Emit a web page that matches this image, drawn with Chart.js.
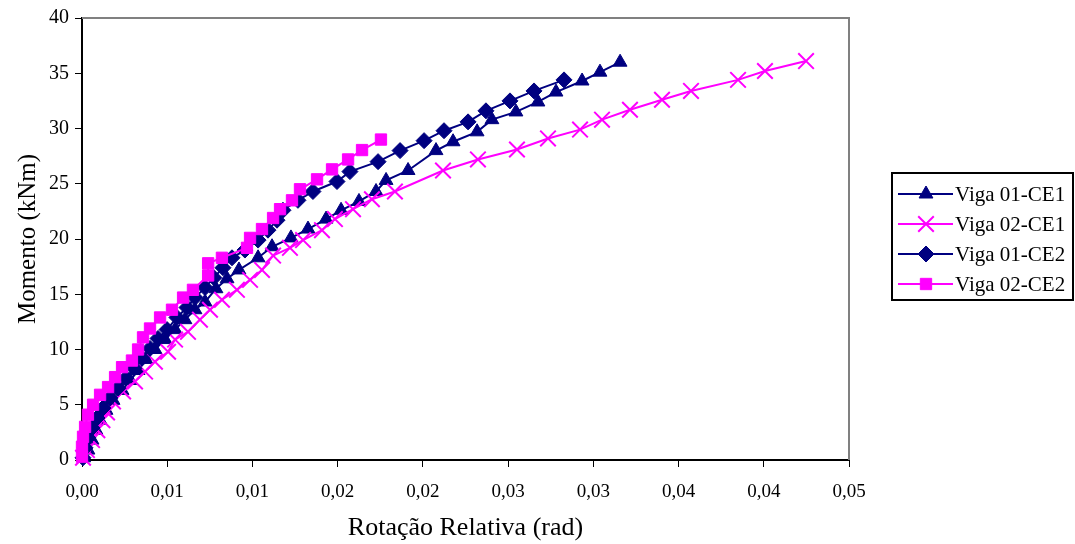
<!DOCTYPE html>
<html>
<head>
<meta charset="utf-8">
<script src="https://cdn.jsdelivr.net/npm/chart.js@4.4.0/dist/chart.umd.min.js"></script>
<style>
  html, body { margin: 0; padding: 0; background: #fff; }
  #wrap { width: 1075px; height: 544px; }
</style>
</head>
<body>
<div id="wrap"><canvas id="c" width="1075" height="544"></canvas></div>
<script>
// ---------- data (rotation in rad, moment in kNm) ----------
const seriesLabels = ['Viga 01-CE1', 'Viga 02-CE1', 'Viga 01-CE2', 'Viga 02-CE2'];

const v01ce1Rot = [0.0001, 0.00035, 0.00059, 0.00082, 0.00106, 0.00141, 0.00182, 0.00235, 0.00282, 0.00329, 0.00375, 0.00428, 0.00487, 0.00546, 0.00604, 0.00663, 0.00722, 0.00786, 0.00851, 0.00921, 0.01033, 0.01115, 0.01226, 0.01326, 0.01432, 0.01520, 0.01625, 0.01725, 0.01784, 0.01913, 0.02077, 0.02177, 0.02318, 0.02405, 0.02546, 0.02675, 0.02781, 0.02934, 0.03039, 0.03157];
const v01ce1Mom = [0.2, 0.9, 1.8, 2.7, 3.6, 4.5, 5.4, 6.3, 7.2, 8.1, 9.1, 10.0, 10.9, 11.8, 12.7, 13.6, 14.3, 15.5, 16.4, 17.2, 18.3, 19.3, 20.1, 20.9, 21.8, 22.6, 23.4, 24.3, 25.3, 26.2, 28.0, 28.8, 29.7, 30.8, 31.5, 32.4, 33.3, 34.3, 35.1, 36.0];

const v02ce1Rot = [0.00006, 0.00029, 0.00059, 0.0009, 0.0012, 0.00147, 0.00182, 0.00241, 0.00311, 0.00370, 0.00428, 0.00505, 0.00546, 0.00622, 0.00692, 0.00751, 0.00821, 0.00909, 0.00986, 0.01056, 0.01121, 0.01220, 0.01297, 0.01408, 0.01484, 0.01590, 0.01701, 0.01836, 0.02118, 0.02323, 0.02552, 0.02734, 0.02922, 0.03051, 0.03215, 0.03403, 0.03573, 0.03849, 0.04007, 0.04248];
const v02ce1Mom = [0.2, 0.9, 1.8, 2.7, 3.6, 4.3, 5.3, 6.2, 7.1, 8.0, 8.9, 9.8, 10.9, 11.6, 12.7, 13.6, 14.5, 15.4, 16.3, 17.2, 18.5, 19.2, 19.9, 20.8, 21.8, 22.7, 23.6, 24.3, 26.2, 27.2, 28.1, 29.1, 29.9, 30.8, 31.7, 32.6, 33.4, 34.4, 35.2, 36.1];

const v01ce2Rot = [0.00006, 0.00018, 0.00035, 0.00059, 0.00088, 0.00123, 0.00164, 0.00211, 0.00258, 0.00305, 0.00352, 0.00399, 0.00446, 0.00499, 0.00557, 0.00616, 0.00663, 0.00722, 0.00774, 0.00827, 0.0088, 0.00956, 0.01033, 0.01091, 0.01144, 0.01179, 0.01267, 0.01355, 0.01496, 0.01572, 0.01737, 0.01866, 0.02007, 0.02124, 0.02265, 0.0237, 0.02511, 0.02652, 0.02828];
const v01ce2Mom = [0.2, 1.1, 2.0, 2.9, 3.8, 4.7, 5.6, 6.5, 7.4, 8.3, 9.2, 10.1, 11.0, 11.8, 12.9, 13.8, 14.7, 15.6, 16.5, 17.4, 18.3, 19.0, 19.9, 20.8, 21.7, 22.6, 23.5, 24.3, 25.2, 26.1, 27.0, 28.0, 28.9, 29.8, 30.6, 31.6, 32.5, 33.4, 34.4];

const v02ce2Rot = [0, 0, 0.00006, 0.00018, 0.00035, 0.00065, 0.00106, 0.00153, 0.00194, 0.00235, 0.00293, 0.00329, 0.00358, 0.00399, 0.00458, 0.00528, 0.00593, 0.00651, 0.0074, 0.0074, 0.00821, 0.00968, 0.00986, 0.01056, 0.01121, 0.01162, 0.01232, 0.01279, 0.01379, 0.01467, 0.01561, 0.01643, 0.01754];
const v02ce2Mom = [0.3, 1.2, 2.1, 3.0, 4.1, 5.0, 5.9, 6.6, 7.5, 8.4, 9.0, 10.0, 11.1, 11.9, 12.9, 13.6, 14.7, 15.4, 16.7, 17.8, 18.3, 19.2, 20.1, 20.9, 21.9, 22.7, 23.5, 24.5, 25.4, 26.3, 27.2, 28.05, 29.0];

const xTickValues = [0, 0.005, 0.01, 0.015, 0.02, 0.025, 0.03, 0.035, 0.04, 0.045];
const xTickLabels = ['0,00', '0,01', '0,01', '0,02', '0,02', '0,03', '0,03', '0,04', '0,04', '0,05'];
const yTickValues = [0, 5, 10, 15, 20, 25, 30, 35, 40];
const yTickLabels = ['0', '5', '10', '15', '20', '25', '30', '35', '40'];

// ---------- helpers ----------
const pts = (xs, ys) => xs.map((x, i) => ({ x: x, y: ys[i] }));
const NAVY = '#000080';
const MAG = '#FF00FF';
const SERIF = '"Liberation Serif", "Times New Roman", serif';

const datasets = [
  { label: seriesLabels[0], data: pts(v01ce1Rot, v01ce1Mom), borderColor: NAVY, backgroundColor: NAVY,
    pointStyle: 'triangle', pointRadius: 8, pointBorderWidth: 1, order: 4 },
  { label: seriesLabels[1], data: pts(v02ce1Rot, v02ce1Mom), borderColor: MAG, backgroundColor: MAG,
    pointStyle: 'crossRot', pointRadius: 11, pointBorderWidth: 2, order: 3 },
  { label: seriesLabels[2], data: pts(v01ce2Rot, v01ce2Mom), borderColor: NAVY, backgroundColor: NAVY,
    pointStyle: 'rectRot', pointRadius: 8, pointBorderWidth: 1, order: 2 },
  { label: seriesLabels[3], data: pts(v02ce2Rot, v02ce2Mom), borderColor: MAG, backgroundColor: MAG,
    pointStyle: 'rect', pointRadius: 8, pointBorderWidth: 1, order: 1 }
].map(d => Object.assign({
  showLine: true, borderWidth: 2, tension: 0, clip: false,
  pointBackgroundColor: d.backgroundColor, pointBorderColor: d.borderColor,
  pointHoverRadius: d.pointRadius
}, d));

// plot frame (gray top & right) and boxed legend
const framePlugin = {
  id: 'frame',
  beforeDatasetsDraw(chart) {
    const { ctx, chartArea: a } = chart;
    ctx.save();
    ctx.strokeStyle = '#808080';
    ctx.lineWidth = 2;
    ctx.beginPath();
    ctx.moveTo(a.left, a.top);
    ctx.lineTo(a.right, a.top);
    ctx.lineTo(a.right, a.bottom);
    ctx.stroke();
    ctx.restore();
  },
  afterDraw(chart) {
    const ctx = chart.ctx;
    ctx.save();
    const bx = 892, by = 173, bw = 181, bh = 127;
    ctx.strokeStyle = '#000';
    ctx.lineWidth = 2;
    ctx.strokeRect(bx, by, bw, bh);
    chart.data.datasets.forEach((ds, i) => {
      const y = 194 + i * 30;
      ctx.strokeStyle = ds.borderColor;
      ctx.lineWidth = 2;
      ctx.beginPath();
      ctx.moveTo(898, y);
      ctx.lineTo(953, y);
      ctx.stroke();
      ctx.fillStyle = ds.backgroundColor;
      ctx.strokeStyle = ds.borderColor;
      ctx.lineWidth = ds.pointBorderWidth;
      Chart.helpers.drawPoint(ctx, { pointStyle: ds.pointStyle, radius: ds.pointRadius, borderWidth: ds.pointBorderWidth, rotation: 0 }, 926, y);
      ctx.fillStyle = '#000';
      ctx.font = '21px ' + SERIF;
      ctx.textBaseline = 'middle';
      ctx.textAlign = 'left';
      ctx.fillText(ds.label, 955, y + 1);
    });
    ctx.restore();
  }
};

new Chart(document.getElementById('c'), {
  type: 'scatter',
  data: { datasets: datasets },
  options: {
    responsive: false,
    animation: false,
    devicePixelRatio: 1,
    layout: { padding: { left: 0, top: 18, right: 226, bottom: 0 } },
    plugins: { legend: { display: false }, tooltip: { enabled: false } },
    scales: {
      x: {
        type: 'linear', min: 0, max: 0.045,
        afterBuildTicks: s => { s.ticks = xTickValues.map(v => ({ value: v })); },
        afterFit: s => { s.height = 84; },
        grid: { display: true, drawOnChartArea: false, drawTicks: true, tickLength: 7, color: '#000', lineWidth: 1 },
        border: { display: true, color: '#000', width: 2 },
        ticks: { color: '#000', padding: 14, maxRotation: 0, autoSkip: false,
          font: { family: SERIF, size: 19 },
          callback: (v, i) => xTickLabels[i] },
        title: { display: true, text: 'Rotação Relativa (rad)', color: '#000',
          font: { family: SERIF, size: 26 }, padding: { top: 1, bottom: 0 } }
      },
      y: {
        type: 'linear', min: 0, max: 40,
        afterBuildTicks: s => { s.ticks = yTickValues.map(v => ({ value: v })); },
        afterFit: s => { s.width = 82; },
        grid: { display: true, drawOnChartArea: false, drawTicks: true, tickLength: 7, color: '#000', lineWidth: 1 },
        border: { display: true, color: '#000', width: 2 },
        ticks: { color: '#000', padding: 6, autoSkip: false,
          font: { family: SERIF, size: 20 },
          callback: (v, i) => yTickLabels[i] },
        title: { display: true, text: 'Momento (kNm)', color: '#000',
          font: { family: SERIF, size: 25 }, padding: { top: 13, bottom: 0 } }
      }
    }
  },
  plugins: [framePlugin]
});
</script>
</body>
</html>
